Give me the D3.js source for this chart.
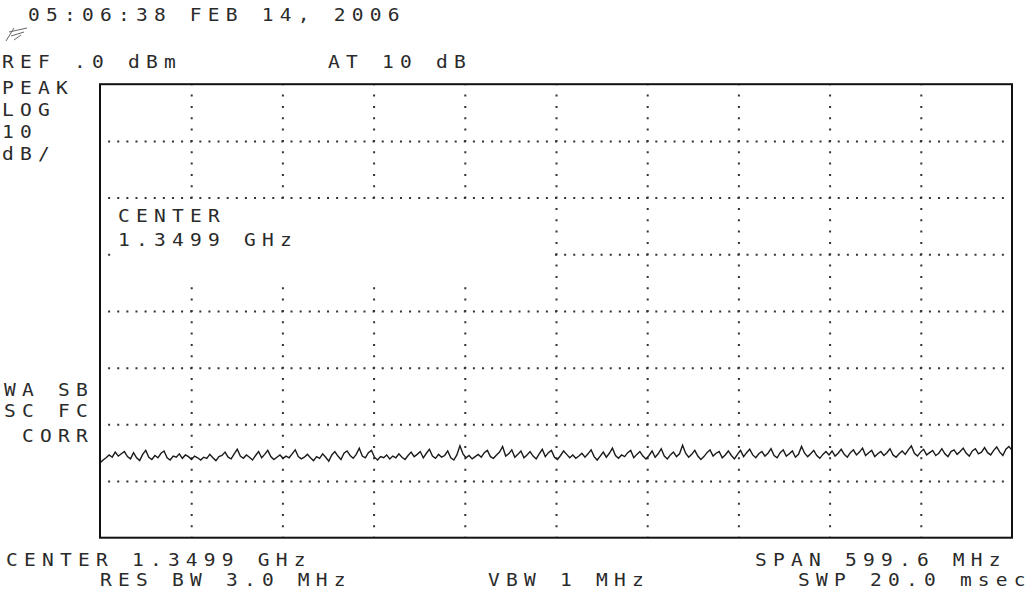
<!DOCTYPE html>
<html><head><meta charset="utf-8">
<script src="https://cdn.jsdelivr.net/npm/d3@7/dist/d3.min.js"></script>
<style>
body{margin:0;background:#fff}
svg text{font-family:"DejaVu Sans Mono",monospace;font-size:17px;fill:#2a2a2a;}
</style></head><body>
<svg id="chart" width="1032" height="590"></svg>
<script>
// ---------- data ----------
const refLevelDbm = 0;
const dbPerDiv = 10;
const yDivisions = 8;
const xDivisions = 10;
const centerMHz = 1349.9;
const spanMHz = 599.6;

const headerLines = ["05:06:38 FEB 14, 2006", "REF .0 dBm", "AT 10 dB"];
const sideLabelsTop = ["PEAK", "LOG", "10", "dB/"];
const sideLabelsBottom = ["WA SB", "SC FC", " CORR"];
const centerAnnotation = ["CENTER", "1.3499 GHz"];
const footerLines = ["CENTER 1.3499 GHz", "SPAN 599.6 MHz", "RES BW 3.0 MHz", "VBW 1 MHz", "SWP 20.0 msec"];

// displayed trace, dBm, equally spaced across the span
const traceDbm = [
-66.8,-66.3,-65.9,-65.4,-65.8,-64.9,-65.6,-65.2,-64.8,-65.7,-66.1,-65.0,-65.9,-66.4,-65.3,-64.6,-65.8,-66.2,-65.5,-65.9,
-65.1,-64.7,-65.9,-66.3,-65.6,-65.8,-65.2,-66.0,-65.4,-65.7,-66.2,-65.6,-65.9,-66.3,-65.8,-66.0,-65.3,-65.9,-66.4,-65.7,
-65.5,-64.9,-65.8,-66.1,-65.2,-64.4,-65.6,-66.0,-65.4,-65.8,-66.3,-65.5,-64.8,-65.9,-65.3,-64.6,-65.7,-66.2,-65.8,-65.4,
-66.0,-65.6,-65.9,-65.2,-64.5,-65.7,-66.1,-65.8,-65.3,-65.9,-66.4,-65.7,-66.0,-65.2,-65.8,-66.5,-65.4,-64.8,-65.6,-66.2,
-65.1,-64.7,-65.5,-66.0,-65.3,-64.2,-65.6,-65.9,-65.0,-64.6,-65.8,-66.3,-65.7,-65.9,-65.4,-66.1,-65.6,-65.9,-65.2,-65.8,
-66.2,-65.5,-64.9,-65.7,-65.3,-64.8,-65.9,-65.1,-64.4,-65.6,-66.0,-65.3,-65.8,-65.5,-64.7,-65.9,-66.3,-65.4,-63.8,-65.2,
-65.9,-65.5,-66.1,-65.7,-65.3,-65.8,-65.0,-64.6,-65.7,-66.0,-65.4,-64.9,-63.9,-65.6,-65.2,-64.5,-65.8,-65.3,-64.7,-65.9,
-65.4,-64.8,-65.6,-66.1,-65.2,-64.4,-65.7,-65.0,-64.6,-65.8,-66.2,-65.5,-64.7,-65.3,-65.9,-65.4,-66.0,-65.6,-65.1,-65.8,
-65.2,-64.5,-65.7,-66.3,-65.6,-64.9,-65.8,-65.1,-64.2,-65.5,-66.0,-65.4,-65.7,-65.0,-64.6,-65.9,-65.3,-64.8,-65.6,-66.1,
-65.5,-64.7,-65.8,-65.2,-64.3,-65.6,-66.1,-65.4,-64.9,-65.7,-65.2,-63.7,-65.1,-65.8,-65.3,-64.6,-65.6,-66.2,-65.7,-65.0,
-64.5,-65.6,-65.1,-64.8,-65.9,-65.4,-64.7,-65.5,-66.1,-65.3,-64.6,-65.7,-65.0,-64.4,-65.4,-65.9,-65.2,-64.8,-65.6,-65.1,
-64.3,-65.5,-65.9,-65.0,-64.5,-65.6,-65.2,-64.7,-65.8,-65.3,-63.9,-65.1,-65.7,-65.2,-64.6,-65.5,-66.0,-65.3,-64.8,-65.4,
-64.7,-65.6,-65.1,-64.4,-65.3,-65.8,-65.0,-64.5,-65.4,-64.9,-64.2,-65.5,-65.0,-64.6,-65.7,-65.2,-64.8,-65.5,-65.0,-64.3,
-65.4,-65.8,-65.2,-64.7,-65.3,-64.5,-63.8,-65.1,-65.6,-64.9,-64.4,-65.4,-65.0,-64.6,-65.5,-65.1,-64.3,-65.2,-65.7,-64.8,
-64.5,-65.3,-64.8,-64.2,-65.1,-65.6,-64.7,-64.3,-65.2,-64.9,-64.1,-65.0,-65.4,-64.6,-64.0,-64.9,-65.5,-64.4,-63.9,-64.6
];

// ---------- layout ----------
const box = {left: 100, right: 1012, top: 84.2, bottom: 537.7};
const adv = 18;               // character pitch of the analyser font
const sx = 1.15;              // horizontal glyph stretch

const svg = d3.select("#chart");

const startMHz = centerMHz - spanMHz / 2, stopMHz = centerMHz + spanMHz / 2;
const x = d3.scaleLinear().domain([startMHz, stopMHz]).range([box.left, box.right]);
const y = d3.scaleLinear().domain([refLevelDbm - dbPerDiv * yDivisions, refLevelDbm]).range([box.bottom, box.top]);

const W = box.right - box.left, H = box.bottom - box.top;
const xTicks = d3.range(1, xDivisions).map(i => startMHz + i * spanMHz / xDivisions);
const yTicks = d3.range(1, yDivisions).map(i => refLevelDbm - i * dbPerDiv);

// horizontal graticule (dots every 1/10 division)
const hStep = W / xDivisions / 10;
const gy = svg.append("g").attr("transform", `translate(${box.left},0)`)
  .call(d3.axisLeft(y).tickValues(yTicks).tickSize(-W).tickFormat(""));
gy.select(".domain").remove();
gy.selectAll(".tick line").attr("stroke", "#333").attr("stroke-width", 2)
  .attr("stroke-dasharray", `2 ${hStep - 2}`).attr("stroke-dashoffset", 1);

// vertical graticule (dots every 1/5 division)
const vStep = H / yDivisions / 5;
const gx = svg.append("g").attr("transform", `translate(0,${box.top})`)
  .call(d3.axisTop(x).tickValues(xTicks).tickSize(-H).tickFormat(""));
gx.select(".domain").remove();
gx.selectAll(".tick line").attr("stroke", "#333").attr("stroke-width", 2)
  .attr("stroke-dasharray", `2 ${vStep - 2}`).attr("stroke-dashoffset", 1);

// blank area behind the centre annotation
svg.append("rect").attr("x", 112).attr("y", 200).attr("width", 440).attr("height", 85).attr("fill", "#fff");

// trace
const line = d3.line()
  .x((d, i) => x(startMHz + i * spanMHz / (traceDbm.length - 1)))
  .y(d => y(d));
svg.append("path").datum(traceDbm).attr("d", line)
  .attr("fill", "none").attr("stroke", "#1a1a1a").attr("stroke-width", 1.4).attr("stroke-linejoin", "miter");

// frame
svg.append("rect").attr("x", box.left).attr("y", box.top).attr("width", W).attr("height", H)
  .attr("fill", "none").attr("stroke", "#111").attr("stroke-width", 2);

// text helper
function label(str, px, py) {
  svg.append("text")
    .attr("transform", `translate(${px},${py}) scale(${sx},1)`)
    .attr("letter-spacing", adv / sx - 0.602 * 17)
    .attr("xml:space", "preserve")
    .style("white-space", "pre")
    .text(str);
}

label(" " + headerLines[0], 10, 21);
label(headerLines[1], 2, 68);
label(headerLines[2], 328, 68);

const topSideY = [94, 116, 138, 160];
sideLabelsTop.forEach((s, i) => label(s, 2, topSideY[i]));
const botSideY = [396, 417, 442];
sideLabelsBottom.forEach((s, i) => label(s, 4, botSideY[i]));

label(centerAnnotation[0], 118, 222);
label(centerAnnotation[1], 118, 246);

label(footerLines[0], 6, 566);
label(footerLines[1], 755, 566);
label(footerLines[2], 100, 586);
label(footerLines[3], 488, 586);
label(footerLines[4], 798, 586);

// small logo scribble
svg.append("path")
  .attr("d", "M6 41 L14 28 M9 32 L27 28 M11 36 L24 32 M14 40 L21 35")
  .attr("fill", "none").attr("stroke", "#666").attr("stroke-width", 1);
</script>
</body></html>
